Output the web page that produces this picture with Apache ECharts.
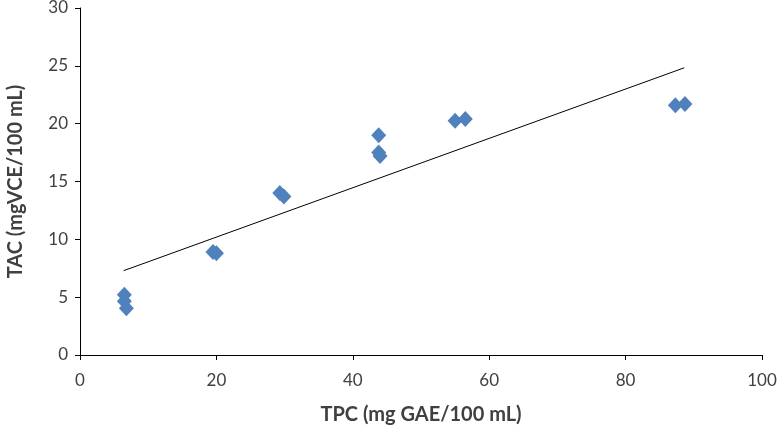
<!DOCTYPE html>
<html>
<head>
<meta charset="utf-8">
<script src="https://cdn.jsdelivr.net/npm/echarts@6/dist/echarts.min.js"></script>
<style>html,body{margin:0;padding:0;background:#fff}#c{width:777px;height:430px}</style>
</head>
<body>
<div id="c"></div>
<script>
var tpc = [6.5, 6.5, 6.8, 19.5, 20.0, 29.3, 29.9, 43.8, 43.8, 44.0, 55.0, 56.5, 87.3, 88.7];
var tac = [5.2, 4.65, 4.05, 8.9, 8.8, 14.0, 13.7, 19.0, 17.5, 17.2, 20.25, 20.4, 21.6, 21.7];
var trendX = [6.4, 88.6];
var trendY = [7.29, 24.83];
var xTicks = [0, 20, 40, 60, 80, 100];
var yTicks = [0, 5, 10, 15, 20, 25, 30];

var pts = tpc.map(function (x, i) { return [x, tac[i]]; });
var trend = trendX.map(function (x, i) { return [x, trendY[i]]; });
var font = 'Lato, "Open Sans", sans-serif';

var chart = echarts.init(document.getElementById('c'), null, {renderer: 'canvas'});
chart.setOption({
  animation: false,
  grid: {left: 80, right: 15, top: 8, bottom: 75, containLabel: false, outerBoundsMode: 'none'},
  xAxis: {
    type: 'value', min: 0, max: 100, interval: 20,
    name: 'TPC (mg GAE/100 mL)', nameLocation: 'middle', nameGap: 50,
    nameTextStyle: {fontFamily: font, fontSize: 20, fontWeight: 'bold', color: '#404040'},
    axisLine: {show: true, lineStyle: {color: '#000', width: 1}},
    axisTick: {show: true, inside: false, length: 5, lineStyle: {color: '#000'}},
    axisLabel: {fontFamily: font, fontSize: 17, color: '#404040', margin: 17},
    splitLine: {show: false}
  },
  yAxis: {
    type: 'value', min: 0, max: 30, interval: 5,
    name: 'TAC (mgVCE/100 mL)', nameLocation: 'middle', nameGap: 54,
    nameTextStyle: {fontFamily: font, fontSize: 20, fontWeight: 'bold', color: '#404040'},
    axisLine: {show: true, lineStyle: {color: '#000', width: 1}},
    axisTick: {show: true, inside: false, length: 5, lineStyle: {color: '#000'}},
    axisLabel: {fontFamily: font, fontSize: 17, color: '#404040', margin: 12},
    splitLine: {show: false}
  },
  series: [
    {
      type: 'line', data: trend, symbol: 'none', silent: true,
      lineStyle: {color: '#000', width: 1}, z: 1
    },
    {
      type: 'scatter', data: pts, symbol: 'diamond', symbolSize: [15, 16],
      itemStyle: {color: '#4F81BD', opacity: 1}, z: 2
    }
  ]
});
</script>
</body>
</html>
